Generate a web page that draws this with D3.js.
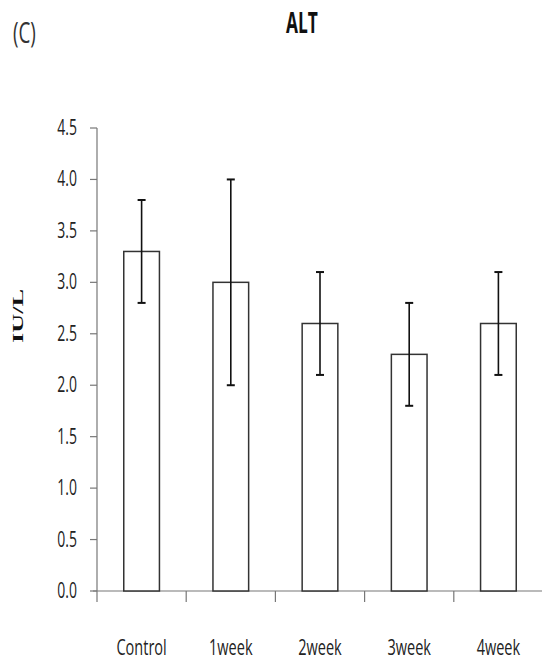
<!DOCTYPE html>
<html><head><meta charset="utf-8">
<script src="https://cdn.jsdelivr.net/npm/d3@7"></script>
<style>body{margin:0;background:#fff}svg{display:block}</style>
</head><body>
<script>
const categories = ["Control", "1week", "2week", "3week", "4week"];
const means = [3.3, 3.0, 2.6, 2.3, 2.6];
const errors = [0.5, 1.0, 0.5, 0.5, 0.5];
const yTicks = [0, 0.5, 1.0, 1.5, 2.0, 2.5, 3.0, 3.5, 4.0, 4.5];

const W = 542, H = 664;
const svg = d3.select("body").append("svg").attr("width", W).attr("height", H);

const x = d3.scaleBand().domain(categories).range([97, 543]).padding(0);
const y = d3.scaleLinear().domain([0, 4.5]).range([591, 128]);

function label(g, txt, px, py, opts) {
  const t = g.append("text")
    .attr("transform", `translate(${px},${py}) scale(${opts.sx},${opts.sy})` + (opts.rot ? ` rotate(${opts.rot})` : ""))
    .attr("text-anchor", opts.anchor || "middle")
    .style("font-family", opts.family || "'Open Sans', sans-serif")
    .style("font-size", opts.size + "px")
    .style("font-weight", opts.weight || "normal")
    .style("fill", opts.fill || "#222")
    .text(txt);
  return t;
}

// y axis
svg.append("line").attr("x1", 97).attr("x2", 97).attr("y1", y(4.5)).attr("y2", y(0))
  .attr("stroke", "#777").attr("stroke-width", 1.2);
yTicks.forEach(v => {
  svg.append("line").attr("x1", 90).attr("x2", 97).attr("y1", y(v)).attr("y2", y(v))
    .attr("stroke", "#777").attr("stroke-width", 1.2);
  label(svg, d3.format(".1f")(v), 77, y(v) + 7, {sx: 0.7, sy: 1.1, size: 20, anchor: "end"});
});

// x axis
svg.append("line").attr("x1", 93).attr("x2", W).attr("y1", y(0)).attr("y2", y(0))
  .attr("stroke", "#777").attr("stroke-width", 1.2);
const bounds = categories.map(c => x(c));
bounds.forEach(b => {
  svg.append("line").attr("x1", b).attr("x2", b).attr("y1", y(0)).attr("y2", y(0) + 11)
    .attr("stroke", "#777").attr("stroke-width", 1.2);
});

// bars
const bw = x.bandwidth() * 0.4;
svg.selectAll("rect.bar").data(categories).enter().append("rect")
  .attr("class", "bar")
  .attr("x", c => x(c) + x.bandwidth() / 2 - bw / 2)
  .attr("width", bw)
  .attr("y", (c, i) => y(means[i]))
  .attr("height", (c, i) => y(0) - y(means[i]))
  .attr("fill", "#fff").attr("stroke", "#333").attr("stroke-width", 1.5);

// error bars
categories.forEach((c, i) => {
  const cx = x(c) + x.bandwidth() / 2;
  const hi = y(means[i] + errors[i]), lo = y(means[i] - errors[i]);
  svg.append("line").attr("x1", cx).attr("x2", cx).attr("y1", hi).attr("y2", lo)
    .attr("stroke", "#111").attr("stroke-width", 1.6);
  [hi, lo].forEach(yy => {
    svg.append("line").attr("x1", cx - 4).attr("x2", cx + 4).attr("y1", yy).attr("y2", yy)
      .attr("stroke", "#111").attr("stroke-width", 2);
  });
  label(svg, c, cx, 655, {sx: 0.66, sy: 1.0, size: 22});
});

// titles
label(svg, "ALT", 302, 33, {sx: 0.62, sy: 1.05, size: 28, weight: "bold", fill: "#111"});
label(svg, "(C)", 13, 43, {sx: 0.72, sy: 1.1, size: 26, anchor: "start", fill: "#333"});
label(svg, "IU/L", 23, 316, {sx: 1.0, sy: 1.75, size: 15, rot: -90, weight: "bold", family: "'Liberation Serif', serif", fill: "#111"});
</script>
</body></html>
